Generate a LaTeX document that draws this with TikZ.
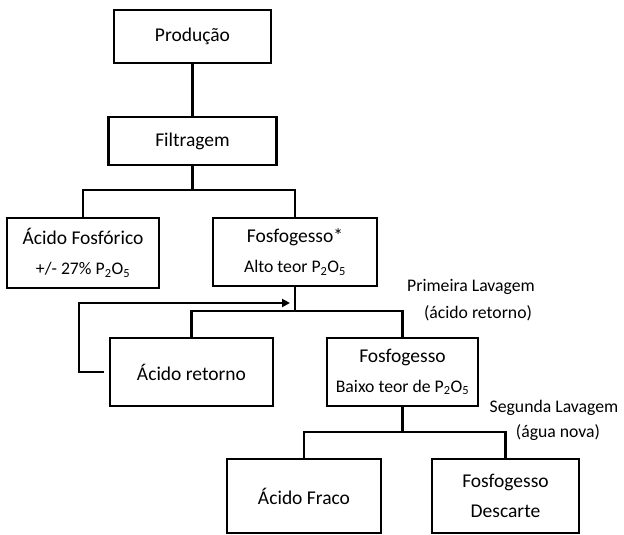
\documentclass[tikz,border=0pt]{standalone}
\usepackage{fontspec}
\setmainfont{Carlito}
\usetikzlibrary{arrows.meta}
\newcommand\fbig{\fontsize{19.5}{30}\selectfont}
\newcommand\fsml{\fontsize{17.7}{30}\selectfont}
\newcommand\pdois{P\textsubscript{2}O\textsubscript{5}}
\begin{document}
\begin{tikzpicture}[x=1pt,y=-1pt,
  box/.style={draw, line width=2.6pt, inner sep=0pt, align=center, font=\fbig},
  conn/.style={line width=2.6pt, line cap=rect},
  lbl/.style={inner sep=0pt, font=\fsml}]
\useasboundingbox (0,0) rectangle (624,535);
% boxes
\node[box, minimum width=157pt, minimum height=53pt] (prod) at (192.5,36.5) {Produção};
\node[box, minimum width=168pt, minimum height=48pt] (filt) at (192.5,141) {Filtragem};
\node[box, minimum width=152pt, minimum height=70pt] (acf) at (83,253) {Ácido Fosfórico\\\fsml +/- 27\% \pdois};
\node[box, minimum width=164pt, minimum height=68pt] (fos1) at (295,252) {Fosfogesso*\\\fsml Alto teor \pdois};
\node[box, minimum width=163pt, minimum height=68pt] (ret) at (191.5,372) {Ácido retorno};
\node[box, minimum width=151pt, minimum height=68pt] (fos2) at (402.5,372) {Fosfogesso\\\fsml Baixo teor de \pdois};
\node[box, minimum width=154pt, minimum height=74pt] (fraco) at (304,496) {Ácido Fraco};
\node[box, minimum width=147pt, minimum height=74pt] (desc) at (505.5,496) {Fosfogesso\\Descarte};
% labels
\node[lbl] (l1) at (471,287) {Primeira Lavagem};
\node[lbl] (l2) at (478,313) {(ácido retorno)};
\node[lbl] (l3) at (554,408) {Segunda Lavagem};
\node[lbl] (l4) at (558,433) {(água nova)};
% junction points
\coordinate (b1) at (192.5,190);
\coordinate (b2) at (295,311);
\coordinate (b3) at (402.5,432);
\coordinate (rl) at (79,303);
\coordinate (rr) at (295,303);
% connectors
\draw[conn] (prod.south) -- (filt.north);
\draw[conn] (filt.south) -- (b1);
\draw[conn] (acf.north) |- (b1) -| (fos1.north);
\draw[conn] (fos1.south) -- (b2);
\draw[conn] (ret.north) |- (b2) -| (fos2.north);
\draw[conn] (fos2.south) -- (b3);
\draw[conn] (fraco.north) |- (b3) -| (desc.north);
\draw[line width=2.6pt, shorten <=5pt, shorten >=5pt, -{Triangle[length=8pt,width=8pt]}] (ret.west) -| (rl) -- (rr);
\end{tikzpicture}
\end{document}
